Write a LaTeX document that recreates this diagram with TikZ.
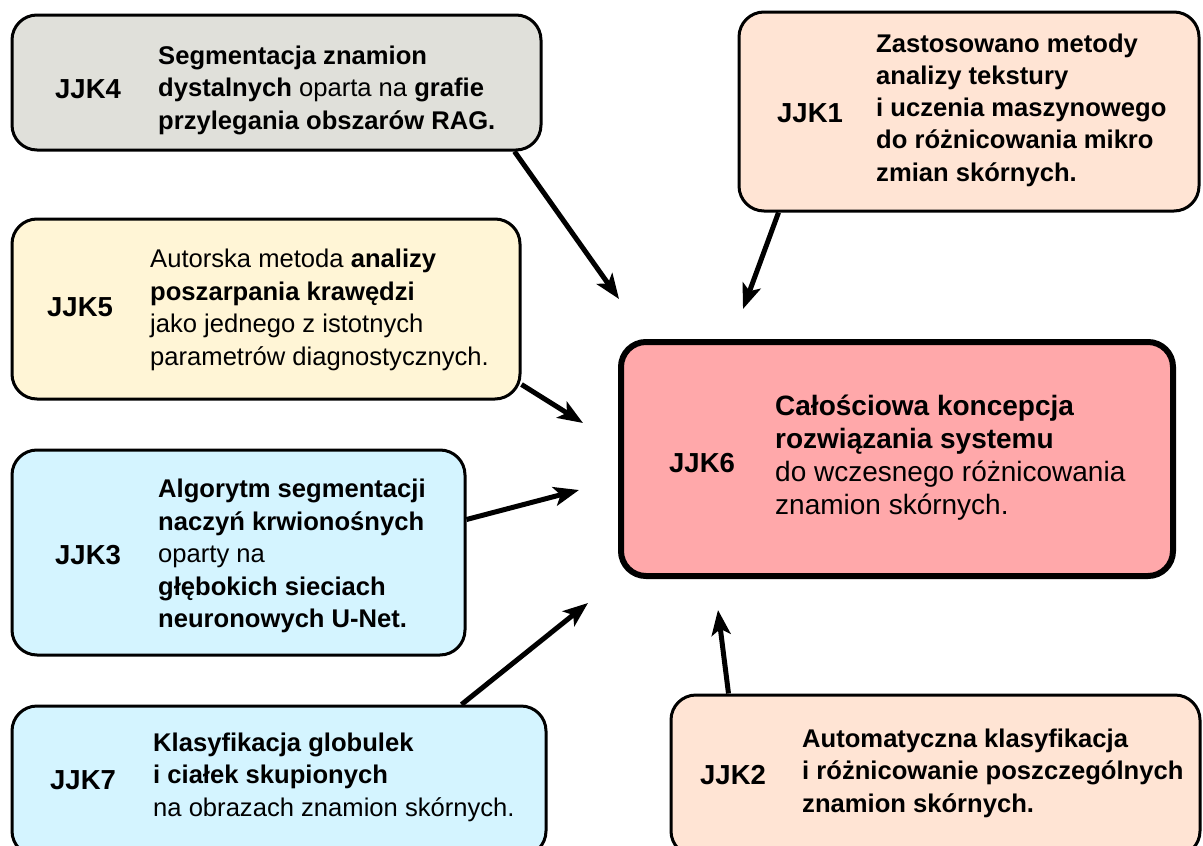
\documentclass[tikz,border=0pt]{standalone}
\usepackage{fontspec}
\setmainfont{Liberation Sans}
\usetikzlibrary{arrows.meta}
\definecolor{cgray}{RGB}{224,224,218}
\definecolor{cpeach}{RGB}{255,228,212}
\definecolor{cyellow}{RGB}{255,245,214}
\definecolor{ccyan}{RGB}{212,244,255}
\definecolor{cpink}{RGB}{255,168,170}
\begin{document}
\begin{tikzpicture}[x=1pt,y=-1pt,
  box/.style={draw=black, line width=3pt, rounded corners=25pt, inner sep=0pt},
  mainbox/.style={box, line width=6pt},
  lbl/.style={anchor=west, font=\fontsize{27.5}{33}\selectfont\bfseries, inner sep=0pt},
  txt/.style={anchor=west, align=left, font=\fontsize{25.6}{32.5}\selectfont, inner sep=0pt},
  mtxt/.style={anchor=west, align=left, font=\fontsize{28}{33}\selectfont, inner sep=0pt},
  arr/.style={line width=5pt, -{Stealth[length=25pt,width=19pt,inset=6pt]}}]
\useasboundingbox (0,0) rectangle (1203,846);
\clip (0,0) rectangle (1203,846);
\fill[white] (0,0) rectangle (1203,846);

% boxes
\node[box, fill=cgray, minimum width=529pt, minimum height=135pt] (b4) at (276.5,82.5) {};
\node[box, fill=cpeach, minimum width=460pt, minimum height=199pt] (b1) at (969,111.5) {};
\node[box, fill=cyellow, minimum width=508pt, minimum height=180pt] (b5) at (266,309) {};
\node[box, fill=ccyan, minimum width=453pt, minimum height=205pt] (b3) at (238.5,552.5) {};
\node[box, fill=ccyan, minimum width=534pt, minimum height=150pt] (b7) at (279,781) {};
\node[box, fill=cpeach, minimum width=529pt, minimum height=161pt] (b2) at (935.5,775.5) {};
\node[mainbox, fill=cpink, minimum width=552pt, minimum height=234pt] (b6) at (897,459) {};

% labels
\node[lbl] (l4) at (55,89) {JJK4};
\node[lbl] (l1) at (777,113) {JJK1};
\node[lbl] (l5) at (47,307) {JJK5};
\node[lbl] (l3) at (55,555) {JJK3};
\node[lbl] (l7) at (50,780) {JJK7};
\node[lbl] (l2) at (700,775) {JJK2};
\node[lbl] (l6) at (669,463) {JJK6};

% texts
\node[txt] (t4) at (158,90) {\textbf{Segmentacja znamion}\\\textbf{dystalnych} oparta na \textbf{grafie}\\\textbf{przylegania obszarów RAG.}};
\node[txt, font=\fontsize{25.6}{32.2}\selectfont\bfseries] (t1) at (876,110) {Zastosowano metody\\analizy tekstury\\i uczenia maszynowego\\do różnicowania mikro\\zmian skórnych.};
\node[txt] (t5) at (150,310) {Autorska metoda \textbf{analizy}\\\textbf{poszarpania krawędzi}\\jako jednego z istotnych\\parametrów diagnostycznych.};
\node[txt] (t3) at (158,556) {\textbf{Algorytm segmentacji}\\\textbf{naczyń krwionośnych}\\oparty na\\\textbf{głębokich sieciach}\\\textbf{neuronowych U-Net.}};
\node[txt] (t7) at (153,777) {\textbf{Klasyfikacja globulek}\\\textbf{i ciałek skupionych}\\na obrazach znamion skórnych.};
\node[txt, font=\fontsize{25.6}{32.5}\selectfont\bfseries] (t2) at (802,773) {Automatyczna klasyfikacja\\i różnicowanie poszczególnych\\znamion skórnych.};
\node[mtxt] (t6) at (775,458) {\textbf{Całościowa koncepcja}\\\textbf{rozwiązania systemu}\\do wczesnego różnicowania\\znamion skórnych.};

% arrow tips (free ends)
\coordinate (e4) at (619,299);
\coordinate (e1) at (743,309);
\coordinate (e5) at (583,423);
\coordinate (e3) at (579,490);
\coordinate (e7) at (588,603);
\coordinate (e2) at (718,610);

\draw[arr] ([xshift=-28pt]b4.south east) -- (e4);
\draw[arr] ([xshift=41pt]b1.south west) -- (e1);
\draw[arr] ([yshift=16pt]b5.south east) -- (e5);
\draw[arr] ([yshift=33pt]b3.east) -- (e3);
\draw[arr] ([xshift=451pt]b7.north west) -- (e7);
\draw[arr] ([xshift=59pt]b2.north west) -- (e2);
\end{tikzpicture}
\end{document}
